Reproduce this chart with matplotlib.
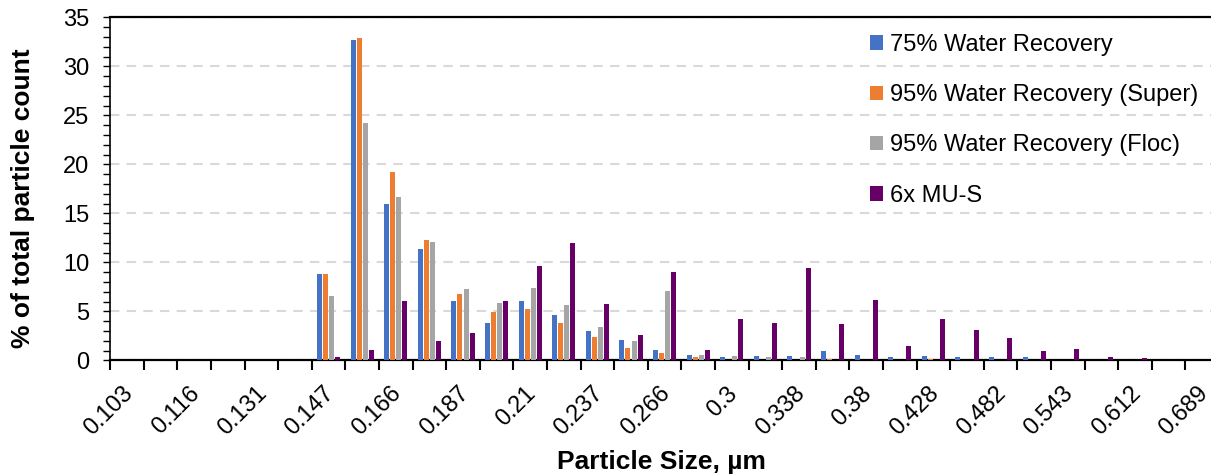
import matplotlib
matplotlib.use("Agg")
import matplotlib.pyplot as plt
import matplotlib.transforms as mtransforms
import numpy as np

# particle size bins (um) and % of total particle count per sample
sizes = ['0.103', '0.109', '0.116', '0.123', '0.131', '0.139', '0.147', '0.156',
         '0.166', '0.176', '0.187', '0.198', '0.21', '0.223', '0.237', '0.251',
         '0.266', '0.282', '0.3', '0.318', '0.338', '0.358', '0.38', '0.404',
         '0.428', '0.455', '0.482', '0.512', '0.543', '0.577', '0.612', '0.649',
         '0.689']
wr75 = [0, 0, 0, 0, 0, 0, 8.8, 32.7, 15.9, 11.35, 6.1, 3.8, 6.1, 4.6, 2.95, 2.05,
        1.1, 0.5, 0.3, 0.4, 0.45, 1.0, 0.5, 0.3, 0.44, 0.32, 0.3, 0.3, 0, 0, 0, 0, 0]
wr95_super = [0, 0, 0, 0, 0, 0, 8.8, 32.9, 19.2, 12.3, 6.8, 4.9, 5.2, 3.8, 2.4, 1.3,
              0.75, 0.3, 0.05, 0.05, 0.05, 0.1, 0.05, 0, 0.1, 0, 0, 0, 0, 0, 0, 0, 0]
wr95_floc = [0, 0, 0, 0, 0, 0, 6.55, 24.2, 16.65, 12.05, 7.25, 5.8, 7.4, 5.6, 3.4, 1.95,
             7.05, 0.55, 0.45, 0.3, 0.3, 0.05, 0, 0, 0, 0, 0, 0, 0, 0, 0, 0, 0]
mus6x = [0, 0, 0, 0, 0, 0, 0.3, 1.1, 6.1, 1.95, 2.75, 6.1, 9.6, 11.95, 5.75, 2.6,
         9.0, 1.1, 4.2, 3.8, 9.4, 3.7, 6.2, 1.5, 4.25, 3.05, 2.3, 0.9, 1.2, 0.3, 0.25,
         0.05, 0]

series = [
    ("75% Water Recovery", wr75, "#4472C4"),
    ("95% Water Recovery (Super)", wr95_super, "#ED7D31"),
    ("95% Water Recovery (Floc)", wr95_floc, "#A5A5A5"),
    ("6x MU-S", mus6x, "#660066"),
]

plt.rcParams['font.family'] = ['Liberation Sans', 'DejaVu Sans']

W, H = 1211, 474
fig = plt.figure(figsize=(W / 100, H / 100), dpi=100)
# plot area runs slightly past the right edge, like the cropped original
ax = fig.add_axes([110.2 / W, (H - 360.3) / H, (1219 - 110.2) / W, (360.3 - 17.3) / H])

x = np.arange(len(sizes))
step = 0.182
bw = 0.15
for i, (name, vals, col) in enumerate(series):
    ax.bar(x + (i - 1.5) * step, vals, width=bw, color=col, label=name, zorder=3)

ax.set_xlim(-0.5, len(sizes) - 0.5)
ax.set_ylim(0, 35)

# y axis
ax.set_yticks(np.arange(0, 36, 5))
ax.set_yticks(np.arange(0, 36, 1), minor=True)
ax.tick_params(axis='y', which='both', direction='out', length=5, width=1,
               labelsize=17, pad=10, color='black')
ax.grid(axis='y', which='major', color='#D9D9D9', linestyle=(0, (4.5, 3.5)),
        linewidth=1.5, zorder=0)

# x axis: ticks on bin boundaries, labels on every other bin
ax.set_xticks(np.arange(-0.5, len(sizes), 1))
ax.set_xticklabels([])
ax.tick_params(axis='x', which='major', direction='out', length=7, width=1.5)
ax.set_xticks(x[::2], minor=True)
ax.set_xticklabels(sizes[::2], minor=True, rotation=45, ha='right',
                   rotation_mode='anchor', fontsize=17)
ax.tick_params(axis='x', which='minor', length=0, pad=16)
shift = mtransforms.ScaledTranslation(-4 / 72, 0, fig.dpi_scale_trans)
for lab in ax.get_xticklabels(minor=True):
    lab.set_transform(lab.get_transform() + shift)

for s in ['left', 'bottom', 'top']:
    ax.spines[s].set_linewidth(1.6)
    ax.spines[s].set_color('black')
ax.spines['right'].set_visible(False)
ax.spines['left'].set_linewidth(1.2)

ax.set_ylabel('% of total particle count', fontsize=19, fontweight='bold')
ax.yaxis.set_label_coords(-0.068, 0.473)
ax.set_xlabel('Particle Size, µm', fontsize=19, fontweight='bold', va='top')
ax.xaxis.set_label_coords(0.497, -0.262)

ax.legend(loc='upper left', bbox_to_anchor=(743 / (1219 - 110.2), 1.0), frameon=False,
          fontsize=17, handlelength=0.55, handleheight=0.55, handletextpad=0.3,
          labelspacing=1.2, borderaxespad=0.3)

fig.savefig('out.png', dpi=100)
